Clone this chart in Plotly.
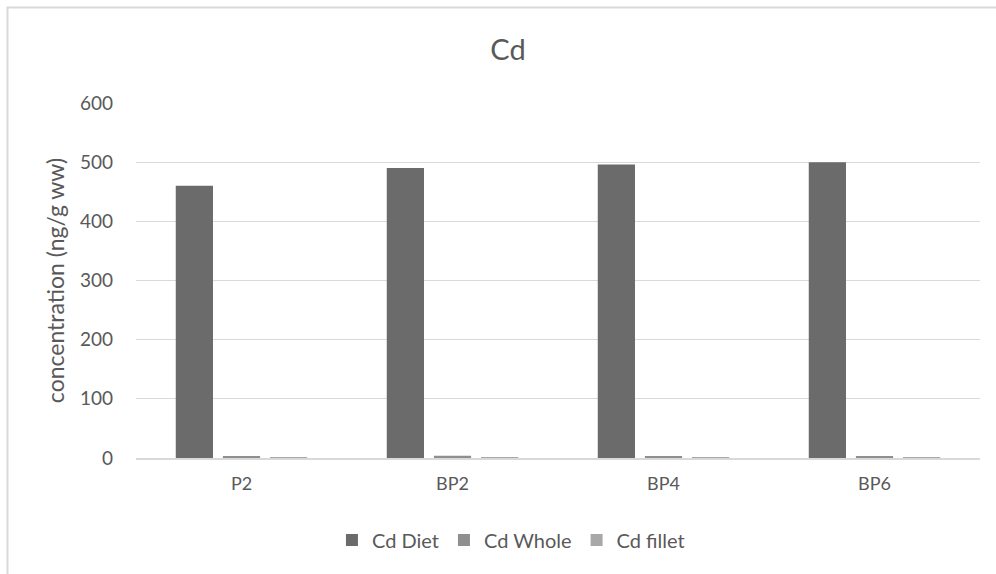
import plotly.graph_objects as go

# Cd concentrations per treatment (ng/g ww)
categories = ["P2", "BP2", "BP4", "BP6"]
cd_diet = [460, 490, 496, 500]
cd_whole = [3.5, 4, 3.5, 3.5]
cd_fillet = [1.5, 1.5, 1.5, 1.5]
y_ticks = [0, 100, 200, 300, 400, 500, 600]

series = [
    ("Cd Diet", cd_diet, "#6b6b6b"),
    ("Cd Whole", cd_whole, "#8f8f8f"),
    ("Cd fillet", cd_fillet, "#a8a8a8"),
]

FONT = "Lato, Open Sans, sans-serif"
TXT = "#595959"

fig = go.Figure()
for name, vals, color in series:
    fig.add_trace(go.Bar(
        x=categories, y=vals, name=name,
        marker=dict(color=color, line=dict(width=0)),
    ))

W, H = 996, 574
L, R, T, B = 136, 16, 103, 116
pw, ph = W - L - R, H - T - B


def px_x(p):
    return (p - L) / pw


def px_y(p):
    return (H - B - p) / ph


fig.update_layout(
    width=W, height=H,
    margin=dict(l=L, r=R, t=T, b=B),
    paper_bgcolor="white", plot_bgcolor="white",
    font=dict(family=FONT, color=TXT, size=18),
    title=dict(text="Cd", x=0.51, xanchor="center", y=1 - 50 / H, yanchor="middle",
               font=dict(size=29, color=TXT, family=FONT)),
    barmode="group", bargap=0.33, bargroupgap=0.21,
    showlegend=True,
    legend=dict(orientation="h", x=0.513, xref="container", xanchor="center",
                y=1 - 540 / H, yref="container", yanchor="middle",
                font=dict(size=20, color=TXT, family=FONT),
                itemwidth=30, traceorder="normal"),
    xaxis=dict(showgrid=False, showline=True, linecolor="#d9d9d9", linewidth=2,
               ticks="", tickfont=dict(size=18, color=TXT), ticklabelstandoff=8),
    yaxis=dict(range=[0, 600], tickvals=y_ticks, showgrid=True, gridcolor="#d9d9d9",
               gridwidth=1, zeroline=False, showline=False, ticks="",
               tickfont=dict(size=19, color=TXT), ticklabelstandoff=22,
               title=dict(text="concentration (ng/g ww)", standoff=8,
                          font=dict(size=23, color=TXT, family=FONT))),
    shapes=[dict(type="rect", xref="paper", yref="paper",
                 x0=px_x(7.5), x1=px_x(1010), y0=px_y(590), y1=px_y(7.5),
                 line=dict(color="#d9d9d9", width=2), fillcolor="rgba(0,0,0,0)",
                 layer="below")],
)

fig.write_html("out.html")
